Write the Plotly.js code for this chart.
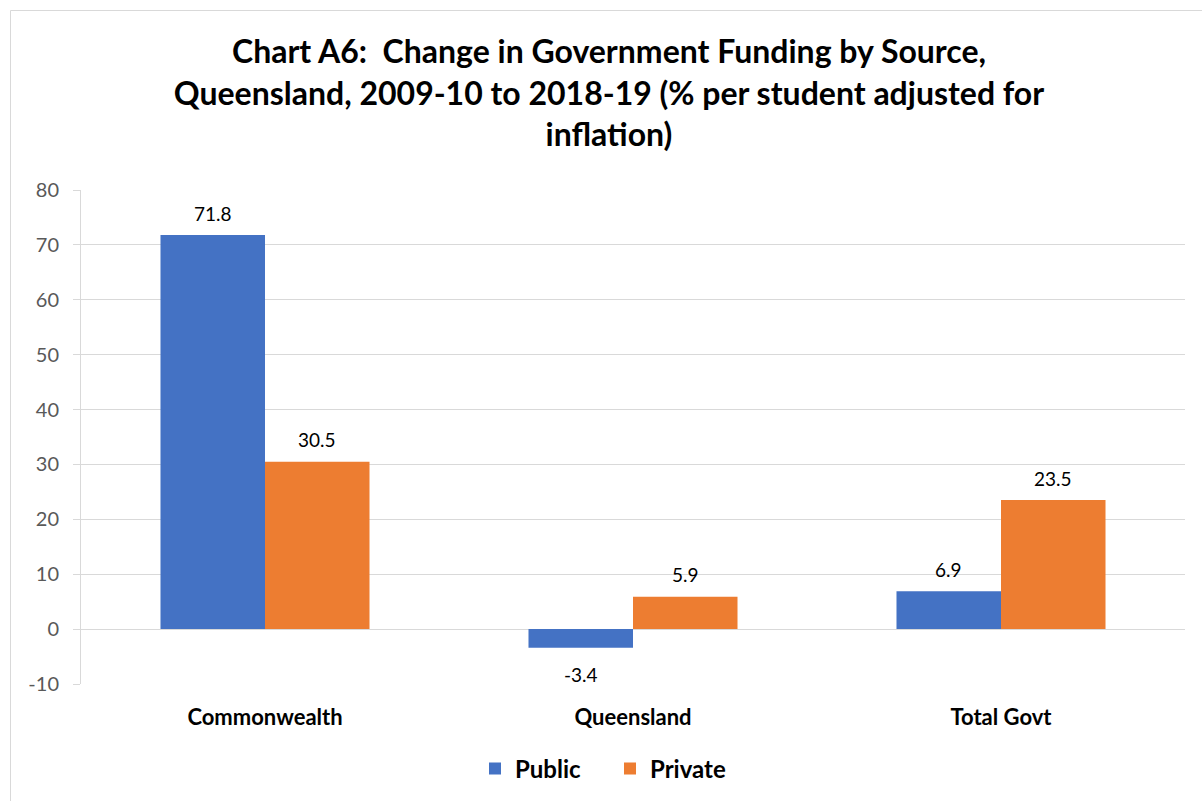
<!DOCTYPE html>
<html><head><meta charset="utf-8">
<script src="https://cdn.plot.ly/plotly-3.0.1.min.js"></script>
<style>body{margin:0;background:#fff}#chart{width:1202px;height:801px}</style>
</head><body><div id="chart"></div>
<script>
const categories = ["Commonwealth", "Queensland", "Total Govt"];
const seriesNames = ["Public", "Private"];
const publicValues = [71.8, -3.4, 6.9];
const privateValues = [30.5, 5.9, 23.5];
const yTicks = [-10, 0, 10, 20, 30, 40, 50, 60, 70, 80];
const yTickText = ["-10", "0", "10", "20", "30", "40", "50", "60", "70", "80"];

const L = 81, R = 17, T = 190, B = 117, W = 1202, H = 801;
const pw = W - L - R, ph = H - T - B;
const px = v => (v - L) / pw;
const py = v => (H - B - v) / ph;
const BARGAP = 0.432;

const font = "Lato, 'Open Sans', sans-serif";
const colors = ["#4472C4", "#ED7D31"];
const series = [publicValues, privateValues];

const data = series.map((vals, i) => ({
  type: "bar", name: seriesNames[i], x: categories, y: vals,
  marker: {color: colors[i]}, hoverinfo: "none"
}));

const annotations = [];
series.forEach((vals, i) => {
  const off = (i === 0 ? -1 : 1) * (1 - BARGAP) / 4;
  vals.forEach((v, j) => {
    annotations.push({
      xref: "x", yref: "y", x: j + off, y: v,
      text: v.toFixed(1), showarrow: false,
      xanchor: "center", yanchor: "middle",
      yshift: v >= 0 ? 22 : -27,
      font: {family: font, size: 19, color: "#000"}
    });
  });
});

const layout = {
  width: W, height: H,
  margin: {l: L, r: R, t: T, b: B, autoexpand: false},
  paper_bgcolor: "#fff", plot_bgcolor: "#fff",
  font: {family: font},
  title: {
    text: "Chart A6:  Change in Government Funding by Source,<br>Queensland, 2009-10 to 2018-19 (% per student adjusted for<br>inflation)",
    font: {family: font, size: 32, color: "#000", weight: 700},
    x: px(609), xanchor: "center", xref: "paper", y: 1 - 63 / H, yanchor: "top"
  },
  barmode: "group", bargap: BARGAP, bargroupgap: 0,
  xaxis: {
    type: "category", showgrid: false, showline: false, zeroline: false,
    tickfont: {family: font, size: 22, color: "#000", weight: 700},
    ticks: "", ticklabelstandoff: 18
  },
  yaxis: {
    range: [-10, 80], tickvals: yTicks, ticktext: yTickText,
    showgrid: true, gridcolor: "#d9d9d9", gridwidth: 1,
    zeroline: false, showline: true, linecolor: "#d9d9d9", linewidth: 1,
    ticks: "outside", ticklen: 7, tickcolor: "#d9d9d9",
    ticklabelstandoff: 10,
    tickfont: {family: font, size: 20, color: "#595959"}
  },
  annotations: annotations,
  showlegend: true,
  legend: {
    orientation: "h", x: px(610), xanchor: "center", y: py(769), yanchor: "middle",
    font: {family: font, size: 24, color: "#000", weight: 700},
    traceorder: "normal", entrywidth: 90, entrywidthmode: "pixels"
  },
  shapes: [{
    type: "rect", xref: "paper", yref: "paper",
    x0: px(10.5), x1: px(1205), y0: py(810), y1: py(10.5),
    line: {color: "#d9d9d9", width: 1}, fillcolor: "rgba(0,0,0,0)", layer: "below"
  }]
};
Plotly.newPlot("chart", data, layout, {displayModeBar: false, staticPlot: true});
</script></body></html>
